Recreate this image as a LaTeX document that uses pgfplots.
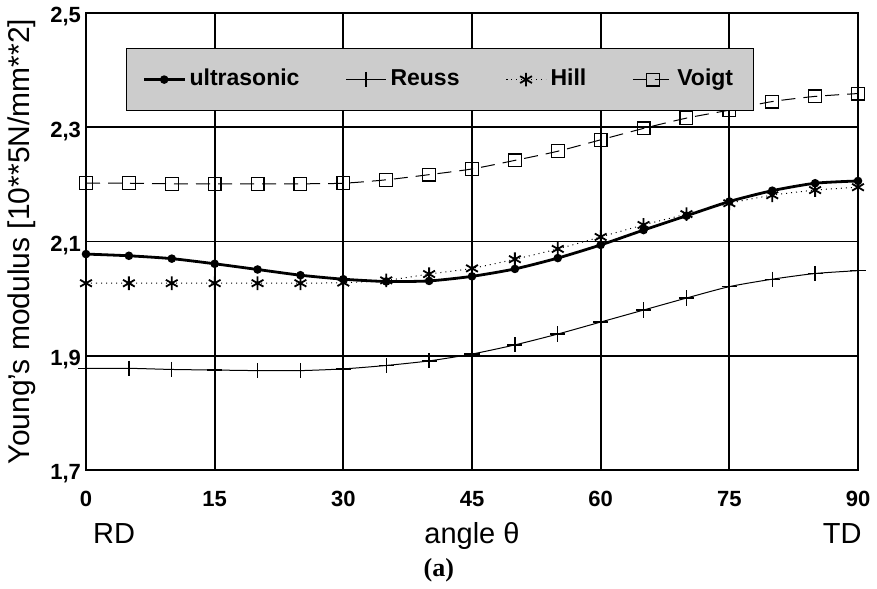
\documentclass[border=0pt]{standalone}
\usepackage{fontspec}
\setmainfont{Liberation Sans}
\newfontfamily\serifbf{Liberation Serif}
\usepackage{pgfplots}
\pgfplotsset{compat=1.18}
\begin{document}
\begin{tikzpicture}
\begin{axis}[
  scale only axis, width=386pt, height=228.5pt,
  xmin=0, xmax=90, ymin=1.7, ymax=2.5,
  xtick={0,15,30,45,60,75,90}, ytick={1.7,1.9,2.1,2.3,2.5},
  grid=major, major grid style={black, line width=0.9pt},
  axis line style={line width=1.1pt},
  major tick length=0pt,
  clip mode=individual,
  /pgf/number format/assume math mode=true,
  ticklabel style={font=\fontsize{11}{12}\selectfont\bfseries},
  yticklabel style={/pgf/number format/.cd, use comma, fixed, fixed zerofill, precision=1, /tikz/.cd, xshift=1pt, yshift=-2pt},
  xticklabel style={yshift=-7pt},
  xlabel={angle θ},
  xlabel style={at={(axis description cs:0.5,-0.160)}, anchor=base, font=\fontsize{14.5}{16}\selectfont},
  ylabel={Young's modulus [10**5N/mm**2]},
  ylabel style={at={(axis description cs:-0.083,0.5)}, anchor=center, font=\fontsize{15}{17}\selectfont},
  legend image code/.code={\draw[mark repeat=2,mark phase=2,#1] plot coordinates {(0pt,0pt) (10pt,0pt) (20pt,0pt)};},
  legend style={at={(0.4585,0.923)}, anchor=north, legend columns=4, fill=black!20, draw=black,
    font=\fontsize{11.5}{13}\selectfont\bfseries, inner xsep=8pt, inner ysep=8pt,
    nodes={text height=8.5pt, text depth=2.5pt},
    /tikz/every even column/.append style={column sep=21pt}},
]
\addplot[black, line width=1.4pt, smooth, tension=0.4, mark=*, mark size=1.4pt] coordinates {
(0,2.078) (5,2.075) (10,2.070) (15,2.061) (20,2.051) (25,2.041) (30,2.034) (35,2.030) (40,2.031)
(45,2.039) (50,2.052) (55,2.071) (60,2.094) (65,2.120) (70,2.145) (75,2.170) (80,2.189) (85,2.202) (90,2.206)};
\addlegendentry{ultrasonic}
\addplot[black, line width=0.5pt, smooth, tension=0.4, mark=+, mark size=3.8pt, mark options={line width=0.7pt}] coordinates {
(0,1.878) (5,1.878) (10,1.876) (15,1.875) (20,1.874) (25,1.874) (30,1.877) (35,1.883) (40,1.891)
(45,1.903) (50,1.919) (55,1.938) (60,1.959) (65,1.980) (70,2.001) (75,2.021) (80,2.034) (85,2.044) (90,2.049)};
\addlegendentry{Reuss}
\addplot[black, line width=0.5pt, dotted, smooth, tension=0.4, mark=asterisk, mark size=3.4pt, mark options={solid, line width=0.9pt}] coordinates {
(0,2.027) (5,2.027) (10,2.027) (15,2.027) (20,2.027) (25,2.027) (30,2.028) (35,2.032) (40,2.043)
(45,2.053) (50,2.069) (55,2.087) (60,2.108) (65,2.129) (70,2.148) (75,2.167) (80,2.181) (85,2.190) (90,2.195)};
\addlegendentry{Hill}
\addplot[black, line width=0.5pt, dash pattern=on 7pt off 4pt, smooth, tension=0.4, mark=square, mark size=3.2pt, mark options={solid, line width=0.6pt}] coordinates {
(0,2.202) (5,2.202) (10,2.201) (15,2.201) (20,2.201) (25,2.201) (30,2.202) (35,2.208) (40,2.217)
(45,2.227) (50,2.242) (55,2.258) (60,2.278) (65,2.298) (70,2.316) (75,2.330) (80,2.345) (85,2.354) (90,2.359)};
\addlegendentry{Voigt}
\node[anchor=base west, font=\fontsize{14.5}{16}\selectfont] at (rel axis cs:0.0,-0.160) {RD};
\node[anchor=base east, font=\fontsize{14.5}{16}\selectfont] at (rel axis cs:1.0137,-0.160) {TD};
\node[font=\serifbf\bfseries\fontsize{13}{15}\selectfont] at (rel axis cs:0.457,-0.219) {(a)};
\coordinate (sw) at (rel axis cs:0,0);
\coordinate (ne) at (rel axis cs:1,1);
\end{axis}
\path ([shift={(-43pt,-56.5pt)}]sw) rectangle ([shift={(9.5pt,6.5pt)}]ne);
\end{tikzpicture}
\end{document}
